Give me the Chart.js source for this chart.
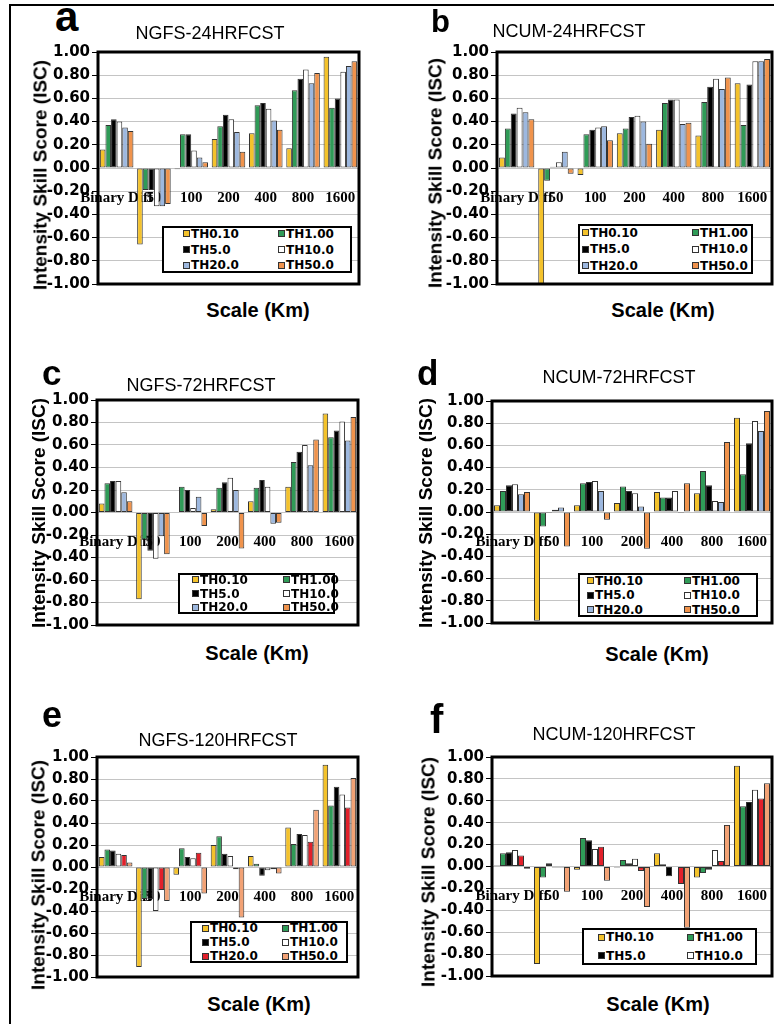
<!DOCTYPE html>
<html><head><meta charset="utf-8">
<script src="https://cdn.jsdelivr.net/npm/chart.js@4.4.1/dist/chart.umd.min.js"></script>
<style>
html,body{margin:0;padding:0;background:#fff;}
body{width:774px;height:1024px;position:relative;overflow:hidden;}
canvas{position:absolute;}
.frame{position:absolute;left:9px;top:4px;width:800px;height:1100px;border-left:2px solid #000;border-top:2px solid #000;}
.lbl{position:absolute;white-space:nowrap;line-height:1;font-family:'Liberation Sans',Arial,sans-serif;color:#000;}
.leg{position:absolute;background:#fff;border:2px solid #000;box-sizing:border-box;}
.mk{position:absolute;width:7px;height:7px;border:1px solid #333;box-sizing:border-box;}
.tx{position:absolute;font-family:'DejaVu Sans';font-weight:bold;font-size:12px;line-height:1;white-space:nowrap;color:#000;}
</style></head><body>
<div class="frame"></div>
<script>
// ---------- data ----------
const categories = ['Binary Diff', '50', '100', '200', '400', '800', '1600'];
const seriesNames = ['TH0.10', 'TH1.00', 'TH5.0', 'TH10.0', 'TH20.0', 'TH50.0'];
const yTickValues = [-1, -0.8, -0.6, -0.4, -0.2, 0, 0.2, 0.4, 0.6, 0.8, 1];

// (a) NGFS-24HRFCST
const ngfs24_th010 = [0.16, -0.66, -0.01, 0.25, 0.30, 0.17, 0.96];
const ngfs24_th100 = [0.37, -0.19, 0.29, 0.36, 0.54, 0.67, 0.52];
const ngfs24_th5   = [0.42, -0.19, 0.29, 0.46, 0.56, 0.77, 0.60];
const ngfs24_th10  = [0.40, -0.33, 0.15, 0.42, 0.51, 0.85, 0.83];
const ngfs24_th20  = [0.35, -0.33, 0.09, 0.31, 0.41, 0.73, 0.88];
const ngfs24_th50  = [0.32, -0.31, 0.05, 0.14, 0.33, 0.82, 0.92];
// (b) NCUM-24HRFCST
const ncum24_th010 = [0.09, -1.00, -0.06, 0.30, 0.33, 0.28, 0.73];
const ncum24_th100 = [0.34, -0.11, 0.29, 0.34, 0.56, 0.57, 0.37];
const ncum24_th5   = [0.47, 0.01, 0.33, 0.44, 0.59, 0.70, 0.72];
const ncum24_th10  = [0.52, 0.05, 0.35, 0.45, 0.59, 0.77, 0.92];
const ncum24_th20  = [0.48, 0.14, 0.36, 0.40, 0.38, 0.68, 0.92];
const ncum24_th50  = [0.42, -0.05, 0.24, 0.21, 0.39, 0.78, 0.94];
// (c) NGFS-72HRFCST
const ngfs72_th010 = [0.08, -0.77, 0.00, 0.03, 0.10, 0.23, 0.88];
const ngfs72_th100 = [0.26, -0.24, 0.23, 0.22, 0.22, 0.45, 0.67];
const ngfs72_th5   = [0.28, -0.34, 0.20, 0.27, 0.29, 0.54, 0.73];
const ngfs72_th10  = [0.28, -0.41, 0.04, 0.31, 0.23, 0.60, 0.81];
const ngfs72_th20  = [0.18, -0.21, 0.14, 0.20, -0.10, 0.42, 0.64];
const ngfs72_th50  = [0.10, -0.37, -0.12, -0.32, -0.09, 0.65, 0.85];
// (d) NCUM-72HRFCST
const ncum72_th010 = [0.06, -0.98, 0.06, 0.08, 0.18, 0.17, 0.85];
const ncum72_th100 = [0.19, -0.13, 0.26, 0.23, 0.13, 0.37, 0.34];
const ncum72_th5   = [0.24, -0.01, 0.27, 0.19, 0.13, 0.24, 0.62];
const ncum72_th10  = [0.25, 0.02, 0.28, 0.17, 0.19, 0.10, 0.82];
const ncum72_th20  = [0.16, 0.04, 0.19, 0.05, -0.01, 0.09, 0.73];
const ncum72_th50  = [0.18, -0.31, -0.07, -0.33, 0.26, 0.63, 0.91];
// (e) NGFS-120HRFCST
const ngfs120_th010 = [0.09, -0.91, -0.07, 0.20, 0.10, 0.36, 0.93];
const ngfs120_th100 = [0.16, -0.29, 0.17, 0.28, 0.03, 0.21, 0.56];
const ngfs120_th5   = [0.15, -0.29, 0.09, 0.12, -0.08, 0.30, 0.73];
const ngfs120_th10  = [0.12, -0.40, 0.08, 0.10, -0.03, 0.29, 0.66];
const ngfs120_th20  = [0.11, -0.21, 0.13, -0.02, -0.02, 0.23, 0.54];
const ngfs120_th50  = [0.04, -0.31, -0.24, -0.46, -0.06, 0.52, 0.81];
// (f) NCUM-120HRFCST
const ncum120_th010 = [0.01, -0.89, -0.03, -0.01, 0.12, -0.10, 0.92];
const ncum120_th100 = [0.12, -0.10, 0.26, 0.06, 0.02, -0.06, 0.55];
const ncum120_th5   = [0.13, 0.03, 0.24, 0.03, -0.09, -0.03, 0.59];
const ncum120_th10  = [0.15, -0.01, 0.16, 0.07, 0.00, 0.15, 0.70];
const ncum120_th20  = [0.10, -0.01, 0.18, -0.04, -0.16, 0.05, 0.62];
const ncum120_th50  = [-0.02, -0.23, -0.13, -0.37, -0.56, 0.38, 0.76];

const colorsBlueOrange = ['#F4C22B', '#2F9B57', '#000000', '#FFFFFF', '#9DB8DF', '#F0934C'];
const colorsRedTan     = ['#F4C22B', '#2F9B57', '#000000', '#FFFFFF', '#E2202A', '#F2A275'];

// ---------- layout ----------
const panels = [
  {letter:'a', lx:55, lb:32, lfs:42, title:'NGFS-24HRFCST', tx:210, tb:39.5,
   plot:[98,52,359,284], ytx:40, yty:175, xtx:258, xtb:316.5,
   series:[ngfs24_th010,ngfs24_th100,ngfs24_th5,ngfs24_th10,ngfs24_th20,ngfs24_th50], colors:colorsBlueOrange,
   leg:{x:162,y:226,w:190,h:47,rows:3,c:[21,116],n:6}},
  {letter:'b', lx:431, lb:32, lfs:31, title:'NCUM-24HRFCST', tx:569, tb:37.5,
   plot:[497,52,772,284], ytx:435, yty:173, xtx:663, xtb:317,
   series:[ncum24_th010,ncum24_th100,ncum24_th5,ncum24_th10,ncum24_th20,ncum24_th50], colors:colorsBlueOrange,
   leg:{x:578,y:224,w:175,h:50,rows:3,c:[4,114],n:6}},
  {letter:'c', lx:42, lb:385, lfs:35, title:'NGFS-72HRFCST', tx:201, tb:391.5,
   plot:[97,400,358,625], ytx:38, yty:513, xtx:257, xtb:660,
   series:[ngfs72_th010,ngfs72_th100,ngfs72_th5,ngfs72_th10,ngfs72_th20,ngfs72_th50], colors:colorsBlueOrange,
   leg:{x:178,y:573,w:157,h:41,rows:3,c:[14,105],n:6}},
  {letter:'d', lx:417, lb:385, lfs:35, title:'NCUM-72HRFCST', tx:619, tb:383.5,
   plot:[492,401,772,623], ytx:425, yty:513, xtx:657, xtb:661,
   series:[ncum72_th010,ncum72_th100,ncum72_th5,ncum72_th10,ncum72_th20,ncum72_th50], colors:colorsBlueOrange,
   leg:{x:578,y:573,w:180,h:44,rows:3,c:[9,106],n:6}},
  {letter:'e', lx:42, lb:727, lfs:36, title:'NGFS-120HRFCST', tx:218, tb:746.5,
   plot:[97,757,358,977], ytx:38, yty:875, xtx:259, xtb:1011,
   series:[ngfs120_th010,ngfs120_th100,ngfs120_th5,ngfs120_th10,ngfs120_th20,ngfs120_th50], colors:colorsRedTan,
   leg:{x:190,y:921,w:158,h:42,rows:3,c:[12,92],n:6}},
  {letter:'f', lx:430, lb:733, lfs:40, title:'NCUM-120HRFCST', tx:614, tb:740,
   plot:[492,757,772,976], ytx:428, yty:872, xtx:658, xtb:1011,
   series:[ncum120_th010,ncum120_th100,ncum120_th5,ncum120_th10,ncum120_th20,ncum120_th50], colors:colorsRedTan,
   leg:{x:582,y:928,w:175,h:37,rows:2,c:[16,105],n:4}}
];

const framePlugin = {
  id:'plotFrame',
  afterDraw(chart){
    const a = chart.chartArea, ctx = chart.ctx;
    ctx.save(); ctx.strokeStyle = '#000'; ctx.lineWidth = 3;
    ctx.strokeRect(a.left, a.top, a.right - a.left, a.bottom - a.top);
    ctx.restore();
  }
};

function addText(txt, left, baseline, fs, weight, center){
  const d = document.createElement('div');
  d.className = 'lbl';
  d.textContent = txt;
  d.style.fontSize = fs + 'px';
  d.style.fontWeight = weight;
  d.style.top = (baseline - 0.8465 * fs) + 'px';
  d.style.left = left + 'px';
  if (center) d.style.transform = 'translateX(-50%)';
  document.body.appendChild(d);
  return d;
}

function makePanel(p){
  const padL = 70, padT = 12, padR = 4, padB = 12;
  const [L, T, R, B] = p.plot;
  const w = R - L + padL + padR, h = B - T + padT + padB;
  const cv = document.createElement('canvas');
  cv.width = w; cv.height = h;
  cv.style.left = (L - padL) + 'px'; cv.style.top = (T - padT) + 'px';
  cv.style.width = w + 'px'; cv.style.height = h + 'px';
  document.body.appendChild(cv);
  new Chart(cv, {
    type:'bar',
    data:{
      labels:categories,
      datasets:p.series.map((vals, i) => ({
        label:seriesNames[i], data:vals, backgroundColor:p.colors[i],
        borderColor:'#333', borderWidth:1, borderSkipped:false,
        categoryPercentage:0.9, barPercentage:1.0
      }))
    },
    options:{
      responsive:false, animation:false, devicePixelRatio:1,
      layout:{padding:{left:0, top:padT, right:padR, bottom:padB}},
      plugins:{legend:{display:false}, tooltip:{enabled:false}},
      scales:{
        x:{
          position:{y:0}, z:1,
          grid:{display:false}, border:{display:false},
          ticks:{autoSkip:false, maxRotation:0, minRotation:0, padding:13, color:'#000',
                 font:{family:'Liberation Serif', weight:'bold', size:15}},
          afterFit:(s) => { s.height = 0; s.paddingLeft = 0; s.paddingRight = 0; }
        },
        y:{
          min:-1, max:1,
          afterBuildTicks:(s) => { s.ticks = yTickValues.map(v => ({value:v})); },
          grid:{color:'#c4c4c4', lineWidth:1, tickLength:6, tickColor:'#000'},
          border:{display:false},
          ticks:{padding:2, color:'#000', font:{family:'DejaVu Sans', weight:'bold', size:15},
                 callback:(v) => Number(v).toFixed(2)},
          afterFit:(s) => { s.width = padL; s.paddingTop = 0; s.paddingBottom = 0; }
        }
      }
    },
    plugins:[framePlugin]
  });

  // panel letter, title, axis titles
  addText(p.letter, p.lx, p.lb, p.lfs, 'bold', false);
  addText(p.title, p.tx, p.tb, 18, 'normal', true);
  addText('Scale (Km)', p.xtx, p.xtb, 20, 'bold', true);
  const yt = document.createElement('div');
  yt.className = 'lbl';
  yt.textContent = 'Intensity Skill Score (ISC)';
  yt.style.fontSize = '19px'; yt.style.fontWeight = 'bold';
  yt.style.left = p.ytx + 'px'; yt.style.top = p.yty + 'px';
  yt.style.transform = 'translate(-50%,-50%) rotate(-90deg)';
  document.body.appendChild(yt);

  // legend
  const lg = p.leg;
  const box = document.createElement('div');
  box.className = 'leg';
  box.style.left = lg.x + 'px'; box.style.top = lg.y + 'px';
  box.style.width = lg.w + 'px'; box.style.height = lg.h + 'px';
  document.body.appendChild(box);
  for (let i = 0; i < lg.n; i++){
    const row = Math.floor(i / 2), col = i % 2;
    const cy = lg.h * (row + 0.5) / lg.rows - 2;
    const mx = lg.c[col] - 2;
    const mk = document.createElement('div');
    mk.className = 'mk';
    mk.style.left = mx + 'px'; mk.style.top = (cy - 3.5) + 'px';
    mk.style.background = p.colors[i];
    box.appendChild(mk);
    const tx = document.createElement('div');
    tx.className = 'tx';
    tx.textContent = seriesNames[i];
    tx.style.left = (mx + 8) + 'px'; tx.style.top = (cy - 5.8) + 'px';
    box.appendChild(tx);
  }
}

panels.forEach(makePanel);
</script>
</body></html>
